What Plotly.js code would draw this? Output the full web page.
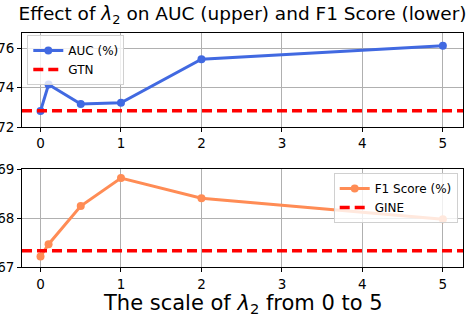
<!DOCTYPE html>
<html>
<head>
<meta charset="utf-8">
<script src="https://cdn.plot.ly/plotly-3.0.1.min.js"></script>
<style>html,body{margin:0;padding:0;background:#fff;}#chart{width:473px;height:316px;}</style>
</head>
<body>
<div id="chart"></div>
<script>
const lambdaValues = [0, 0.1, 0.5, 1, 2, 5];
const aucValues = [72.81, 74.15, 73.16, 73.23, 75.43, 76.12];
const f1Values = [67.22, 67.47, 68.25, 68.82, 68.41, 67.98];
const gtnBaseline = 72.82;
const gineBaseline = 67.34;
const xTicks = [0, 1, 2, 3, 4, 5];
const aucTicks = [72, 74, 76];
const f1Ticks = [67, 68, 69];

const font = 'DejaVu Sans, sans-serif';
const W = 473, H = 316;
const xRange = [-0.23, 5.25];

const traces = [
  {x: lambdaValues, y: aucValues, type: 'scatter', mode: 'lines+markers', name: 'AUC (%)',
   line: {color: '#4169e1', width: 3}, marker: {color: '#4169e1', size: 8},
   xaxis: 'x', yaxis: 'y', legend: 'legend'},
  {x: xRange, y: [gtnBaseline, gtnBaseline], type: 'scatter', mode: 'lines', name: 'GTN',
   line: {color: '#ff0000', width: 3.5, dash: '10px,5px'},
   xaxis: 'x', yaxis: 'y', legend: 'legend'},
  {x: lambdaValues, y: f1Values, type: 'scatter', mode: 'lines+markers', name: 'F1 Score (%)',
   line: {color: '#ff8c55', width: 3}, marker: {color: '#ff8c55', size: 8},
   xaxis: 'x2', yaxis: 'y2', legend: 'legend2'},
  {x: xRange, y: [gineBaseline, gineBaseline], type: 'scatter', mode: 'lines', name: 'GINE',
   line: {color: '#ff0000', width: 3.5, dash: '10px,5px'},
   xaxis: 'x2', yaxis: 'y2', legend: 'legend2'}
];

const axisCommon = {
  showline: true, mirror: true, linecolor: '#000', linewidth: 1,
  ticks: 'outside', ticklen: 4, tickcolor: '#000', tickwidth: 1,
  showgrid: true, gridcolor: '#b0b0b0', gridwidth: 1, zeroline: false,
  tickfont: {family: font, size: 13.5, color: '#000'}
};

const layout = {
  width: W, height: H,
  margin: {l: 22, r: 10, t: 0, b: 0},
  paper_bgcolor: '#fff', plot_bgcolor: '#fff',
  font: {family: font, color: '#000'},
  title: {text: 'Effect of <i>λ</i><sub>2</sub> on AUC (upper) and F1 Score (lower)',
          font: {family: font, size: 18.5, color: '#000'},
          x: 0.5, xref: 'paper', xanchor: 'center', y: 1 - 14 / H, yref: 'container', yanchor: 'middle'},
  xaxis: Object.assign({}, axisCommon, {domain: [0, 1], range: xRange, tickvals: xTicks, anchor: 'y'}),
  yaxis: Object.assign({}, axisCommon, {domain: [1 - 127 / H, 1 - 33 / H], range: [72, 76.76], tickvals: aucTicks, anchor: 'x'}),
  xaxis2: Object.assign({}, axisCommon, {domain: [0, 1], range: xRange, tickvals: xTicks, anchor: 'y2'}),
  yaxis2: Object.assign({}, axisCommon, {domain: [1 - 267.3 / H, 1 - 169.3 / H], range: [67, 69], tickvals: f1Ticks, anchor: 'x2'}),
  annotations: [{
    text: 'The scale of <i>λ</i><sub>2</sub> from 0 to 5', showarrow: false,
    xref: 'paper', yref: 'paper', x: 0.5, y: 1 - 304 / H, xanchor: 'center', yanchor: 'middle',
    font: {family: font, size: 21, color: '#000'}, borderpad: 0
  }],
  legend: {x: 0.012, y: 1 - 35 / H, xref: 'paper', yref: 'paper', xanchor: 'left', yanchor: 'top',
           bgcolor: 'rgba(255,255,255,0.8)', bordercolor: '#d0d0d0', borderwidth: 1,
           font: {family: font, size: 12, color: '#000'}, tracegroupgap: 0},
  legend2: {x: 0.988, y: 1 - 173 / H, xref: 'paper', yref: 'paper', xanchor: 'right', yanchor: 'top',
           bgcolor: 'rgba(255,255,255,0.8)', bordercolor: '#d0d0d0', borderwidth: 1,
           font: {family: font, size: 12, color: '#000'}, tracegroupgap: 0},
  showlegend: true
};

Plotly.newPlot('chart', traces, layout, {displayModeBar: false, staticPlot: true});
</script>
</body>
</html>
